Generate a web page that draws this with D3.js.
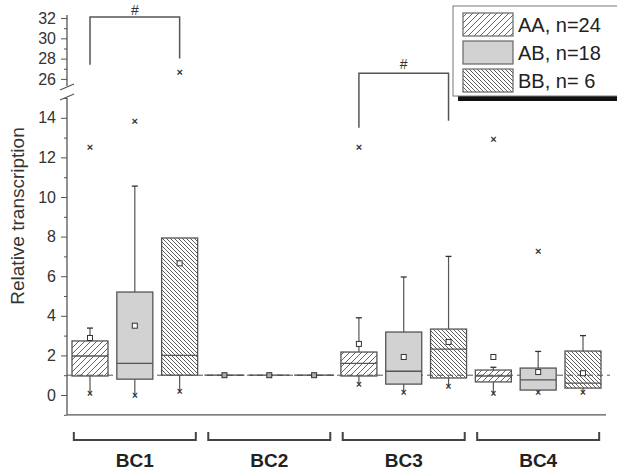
<!DOCTYPE html>
<meta charset="utf-8">
<html>
<head>
<script type="text/javascript" src="https://d3js.org/d3.v7.js"></script>
</head>
<body style="margin:0;background:#fff">
<div id="plotArea"></div>
<script>
  // data
  const groups = ['BC1', 'BC2', 'BC3', 'BC4'];
  const genotypes = ['AA', 'AB', 'BB'];
  const legendLabels = ['AA, n=24', 'AB, n=18', 'BB, n= 6'];
  // one entry per box, in order BC1 AA, BC1 AB, BC1 BB, BC2 AA ...
  const q1     = [0.96, 0.80, 1.00,  1, 1, 1,  0.96, 0.55, 0.86,  0.66, 0.25, 0.35];
  const median = [1.97, 1.60, 2.00,  1, 1, 1,  1.60, 1.20, 2.32,  0.96, 0.76, 0.60];
  const q3     = [2.73, 5.20, 7.93,  1, 1, 1,  2.17, 3.18, 3.33,  1.26, 1.36, 2.22];
  const mean   = [2.88, 3.50, 6.65,  1, 1, 1,  2.58, 1.92, 2.68,  1.92, 1.16, 1.10];
  const whiskLo = [0.10, 0.00, 0.20, 1, 1, 1,  0.55, 0.15, 0.45,  0.10, 0.15, 0.15];
  const whiskHi = [3.38, 10.55, 7.93, 1, 1, 1, 3.90, 5.96, 7.00,  1.40, 2.20, 3.00];
  const outlier = [12.5, 13.85, 26.7, null, null, null, 12.5, null, null, 12.9, 7.27, null];
  const yTicksLow = [0, 2, 4, 6, 8, 10, 12, 14];
  const yTicksHigh = [26, 28, 30, 32];

  const width = 617, height = 474;
  const svg = d3.select('#plotArea').append('svg')
      .attr('width', width).attr('height', height)
      .style('font-family', 'Liberation Sans, Arial, sans-serif');

  // scales: x over box index, y broken in two parts
  const x = d3.scaleLinear().domain([0, 11]).range([90, 583]);
  const yL = d3.scaleLinear().domain([-1, 15]).range([414.8, 98]);
  const yU = d3.scaleLinear().domain([25.3, 32.3]).range([86, 15]);
  const y = v => v > 20 ? yU(v) : yL(v);
  const boxW = 36;
  const axisX = 67;
  const lineCol = '#555';

  // hatch patterns
  const defs = svg.append('defs');
  defs.append('pattern').attr('id', 'hatchAA').attr('patternUnits', 'userSpaceOnUse')
      .attr('width', 6).attr('height', 6)
    .append('path').attr('d', 'M-1,1 l2,-2 M0,6 l6,-6 M5,7 l2,-2')
      .attr('stroke', '#555').attr('stroke-width', 0.9);
  defs.append('pattern').attr('id', 'hatchBB').attr('patternUnits', 'userSpaceOnUse')
      .attr('width', 4).attr('height', 4)
    .append('path').attr('d', 'M-1,-1 l2,2 M0,0 l4,4 M3,3 l2,2')
      .attr('stroke', '#555').attr('stroke-width', 0.9);
  const fills = {AA: 'url(#hatchAA)', AB: '#d2d2d2', BB: 'url(#hatchBB)'};

  // x-shaped marker as text
  function cross(g, cx, cy, size) {
    g.append('text').attr('x', cx).attr('y', cy).attr('dy', '0.35em').attr('text-anchor', 'middle')
        .style('font-size', size + 'px').style('font-weight', 'bold').attr('fill', '#333').text('×');
  }

  // y axis, lower part
  svg.append('g').attr('class', 'ax').attr('transform', `translate(${axisX},0)`)
      .call(d3.axisLeft(yL).tickValues(yTicksLow).tickSize(6).tickPadding(5).tickFormat(d3.format('d')));
  svg.append('g').attr('class', 'ax').attr('transform', `translate(${axisX},0)`)
      .call(d3.axisLeft(yL).tickValues(d3.range(-1, 16, 1).filter(d => d % 2 !== 0)).tickSize(3).tickFormat(''));
  // upper part
  svg.append('g').attr('class', 'ax').attr('transform', `translate(${axisX},0)`)
      .call(d3.axisLeft(yU).tickValues(yTicksHigh).tickSize(6).tickPadding(5).tickFormat(d3.format('d')));
  svg.append('g').attr('class', 'ax').attr('transform', `translate(${axisX},0)`)
      .call(d3.axisLeft(yU).tickValues([27, 29, 31]).tickSize(3).tickFormat(''));
  svg.selectAll('.ax .domain').remove();
  svg.append('line').attr('x1', axisX).attr('x2', axisX).attr('y1', yL(-1)).attr('y2', yL(15))
      .attr('stroke', lineCol).attr('stroke-width', 1.3);
  svg.append('line').attr('x1', axisX).attr('x2', axisX).attr('y1', yU(25.3)).attr('y2', yU(32.3))
      .attr('stroke', lineCol).attr('stroke-width', 1.3);
  svg.selectAll('.tick line').attr('stroke', lineCol);
  svg.selectAll('.tick text').attr('fill', '#333').style('font-size', '16px')
      .style('font-family', 'Liberation Sans, Arial, sans-serif');
  // break marks
  [yU(25.3) + 1, yL(15) - 1].forEach(function(yy) {
    svg.append('line').attr('x1', axisX - 7).attr('x2', axisX + 7)
        .attr('y1', yy + 3).attr('y2', yy - 3)
        .attr('stroke', lineCol).attr('stroke-width', 1.2);
  });

  // x axis line
  svg.append('line').attr('x1', axisX).attr('x2', 606).attr('y1', yL(-1)).attr('y2', yL(-1))
      .attr('stroke', lineCol).attr('stroke-width', 1.3);

  // y label
  svg.append('text')
      .attr('transform', `translate(24,${216}) rotate(-90)`)
      .style('text-anchor', 'middle').style('font-size', '19px').attr('fill', '#333')
      .text('Relative transcription');

  // reference line at 1
  svg.append('line').attr('x1', axisX).attr('x2', 610).attr('y1', yL(1)).attr('y2', yL(1))
      .attr('stroke', '#555').attr('stroke-width', 1).attr('stroke-dasharray', '6,4');

  // boxes
  const boxes = q1.map(function(d, i) {
    return {i: i, g: genotypes[i % 3], q1: d, med: median[i], q3: q3[i], mean: mean[i],
            lo: whiskLo[i], hi: whiskHi[i], out: outlier[i]};
  });
  const bg = svg.append('g');
  boxes.forEach(function(b) {
    const cx = x(b.i);
    const g = bg.append('g');
    const flat = b.q3 - b.q1 < 0.01;
    if (flat) {
      g.append('line').attr('x1', cx - boxW / 2 - 2).attr('x2', cx + boxW / 2 + 2)
          .attr('y1', y(b.med)).attr('y2', y(b.med)).attr('stroke', '#444').attr('stroke-width', 1.3);
    } else {
      // whiskers
      if (b.hi > b.q3) {
        g.append('line').attr('x1', cx).attr('x2', cx).attr('y1', y(b.q3)).attr('y2', y(b.hi))
            .attr('stroke', lineCol).attr('stroke-width', 1.2);
        g.append('line').attr('x1', cx - 3).attr('x2', cx + 3).attr('y1', y(b.hi)).attr('y2', y(b.hi))
            .attr('stroke', '#333').attr('stroke-width', 1.3);
      }
      g.append('line').attr('x1', cx).attr('x2', cx).attr('y1', y(b.q1)).attr('y2', y(b.lo))
          .attr('stroke', lineCol).attr('stroke-width', 1.2);
      cross(g, cx, y(b.lo), 10);
      g.append('rect').attr('x', cx - boxW / 2).attr('width', boxW)
          .attr('y', y(b.q3)).attr('height', y(b.q1) - y(b.q3))
          .attr('fill', fills[b.g]).attr('stroke', lineCol).attr('stroke-width', 1.3);
      g.append('line').attr('x1', cx - boxW / 2).attr('x2', cx + boxW / 2)
          .attr('y1', y(b.med)).attr('y2', y(b.med)).attr('stroke', lineCol).attr('stroke-width', 1.3);
    }
    g.append('rect').attr('x', cx - 2.5).attr('y', y(b.mean) - 2.5).attr('width', 5).attr('height', 5)
        .attr('fill', flat ? '#aaa' : '#fff').attr('stroke', '#333').attr('stroke-width', 1);
    if (b.out !== null) cross(g, cx, y(b.out), 11);
  });

  // significance brackets
  function bracket(i0, i1, yTop, yLeft, yRight, ty) {
    svg.append('path')
        .attr('d', `M${x(i0)},${yLeft}V${yTop}H${x(i1)}V${yRight}`)
        .attr('fill', 'none').attr('stroke', '#555').attr('stroke-width', 1.5);
    svg.append('text').attr('x', (x(i0) + x(i1)) / 2).attr('y', ty)
        .attr('text-anchor', 'middle').style('font-size', '14px').attr('fill', '#333').text('#');
  }
  bracket(0, 2, yU(32.1), yU(27.4), yU(28.0), 15);
  bracket(6, 8, yU(26.55), yL(13.5), yL(13.85), 69);

  // group brackets under the axis
  const gb = svg.append('g');
  groups.forEach(function(name, k) {
    const cx = x(k * 3 + 1);
    gb.append('path').attr('d', `M${cx - 61},432V440H${cx + 61}V432`)
        .attr('fill', 'none').attr('stroke', '#444').attr('stroke-width', 2);
    gb.append('text').attr('x', cx).attr('y', 467).attr('text-anchor', 'middle')
        .style('font-size', '19px').style('font-weight', 'bold').attr('fill', '#222').text(name);
  });

  // legend
  const lg = svg.append('g');
  lg.append('rect').attr('x', 458).attr('y', 96).attr('width', 170).attr('height', 5).attr('fill', '#111');
  lg.append('rect').attr('x', 453).attr('y', 6).attr('width', 170).attr('height', 90)
      .attr('fill', '#fff').attr('stroke', '#777').attr('stroke-width', 1);
  genotypes.forEach(function(gname, k) {
    const yy = 13 + k * 28;
    lg.append('rect').attr('x', 463).attr('y', yy).attr('width', 50).attr('height', 23)
        .attr('fill', fills[gname]).attr('stroke', '#666').attr('stroke-width', 1.2);
    lg.append('text').attr('x', 518).attr('y', yy + 19).style('font-size', '20px')
        .attr('fill', '#222').text(legendLabels[k]);
  });
</script>
</body>
</html>
